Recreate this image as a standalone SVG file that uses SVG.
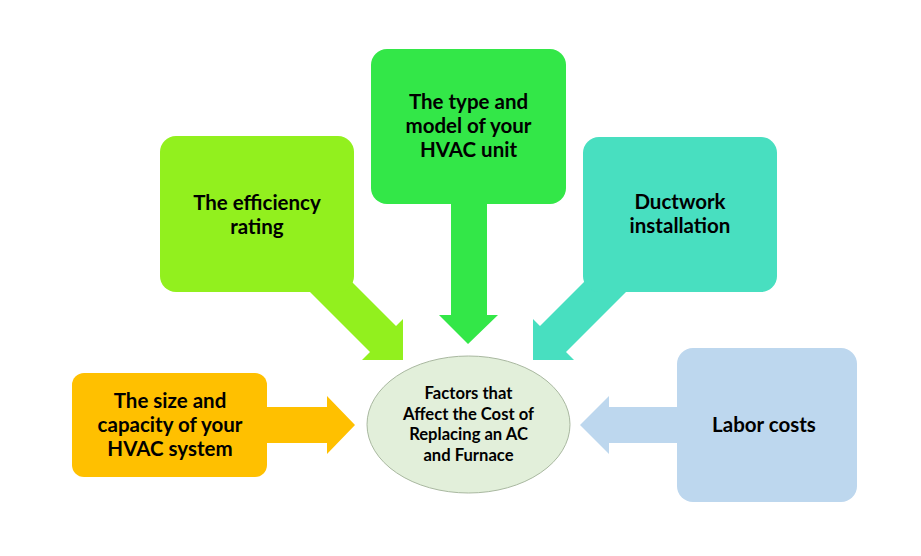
<svg xmlns="http://www.w3.org/2000/svg" width="921" height="556" viewBox="0 0 921 556">
<style>
.t{font-family:Lato,"Open Sans","Liberation Sans",sans-serif;font-weight:bold;fill:#000;text-anchor:middle}
.big{font-size:20.5px}
.small{font-size:16.6px}
</style>
<rect width="921" height="556" fill="#ffffff"/>
<g id="connectors">
  <polygon points="451,200 487,200 487,315 498,315 468,344 439,315 451,315" fill="#33e748"/>
  <polygon points="305,287 331,261 396,326 403,319 403,360 362,360 370,352" fill="#92f01e"/>
  <polygon points="631,287 605,261 540,326 533,319 533,360 574,360 566,352" fill="#48dfc0"/>
  <polygon points="262,407 327,407 327,396 355,425 327,454 327,443 262,443" fill="#ffc000"/>
  <polygon points="682,407 609,407 609,396 580,425 609,454 609,443 682,443" fill="#bdd7ee"/>
</g>
<g id="node-center">
  <ellipse cx="468.5" cy="424.5" rx="101.5" ry="68.5" fill="#e2efda" stroke="#a9b8a0" stroke-width="1"/>
  <text class="t small" x="468.5" y="399">Factors that</text>
  <text class="t small" x="468.5" y="419.5">Affect the Cost of</text>
  <text class="t small" x="468.5" y="440">Replacing an AC</text>
  <text class="t small" x="468.5" y="460.5">and Furnace</text>
</g>
<g id="node-type">
  <rect x="371" y="49" width="195" height="155" rx="16" fill="#33e748"/>
  <text class="t big" x="468.5" y="109">The type and</text>
  <text class="t big" x="468.5" y="133">model of your</text>
  <text class="t big" x="468.5" y="157">HVAC unit</text>
</g>
<g id="node-efficiency">
  <rect x="160" y="136" width="194" height="156" rx="16" fill="#92f01e"/>
  <text class="t big" x="257" y="210">The efficiency</text>
  <text class="t big" x="257" y="234">rating</text>
</g>
<g id="node-ductwork">
  <rect x="583" y="137" width="194" height="155" rx="16" fill="#48dfc0"/>
  <text class="t big" x="680" y="209">Ductwork</text>
  <text class="t big" x="680" y="233">installation</text>
</g>
<g id="node-size">
  <rect x="72" y="373" width="195" height="104" rx="12" fill="#ffc000"/>
  <text class="t big" x="170" y="408">The size and</text>
  <text class="t big" x="170" y="432">capacity of your</text>
  <text class="t big" x="170" y="456">HVAC system</text>
</g>
<g id="node-labor">
  <rect x="677" y="348" width="180" height="154" rx="16" fill="#bdd7ee"/>
  <text class="t big" x="764" y="432">Labor costs</text>
</g>
</svg>
